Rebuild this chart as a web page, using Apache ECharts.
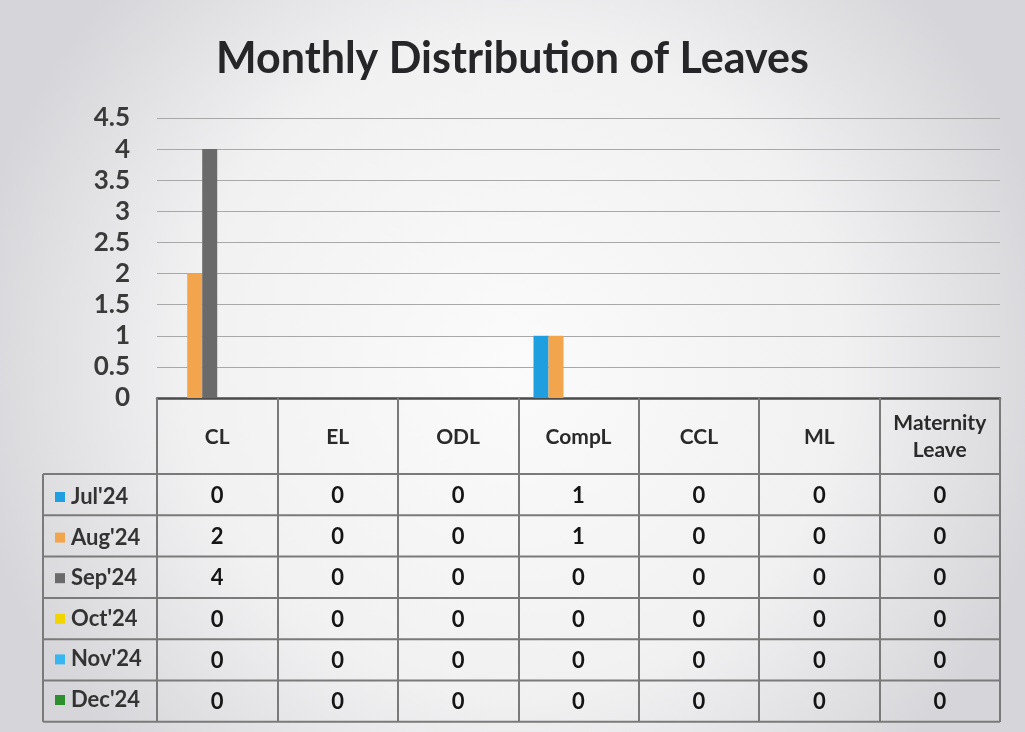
<!DOCTYPE html>
<html>
<head>
<meta charset="utf-8">
<script src="https://cdn.jsdelivr.net/npm/echarts@6/dist/echarts.min.js"></script>
<style>
  html, body { margin: 0; padding: 0; }
  #chart { width: 1025px; height: 732px; }
</style>
</head>
<body>
<div id="chart"></div>
<script>
const categories = ['CL', 'EL', 'ODL', 'CompL', 'CCL', 'ML', 'Maternity\nLeave']
const months = ["Jul'24", "Aug'24", "Sep'24", "Oct'24", "Nov'24", "Dec'24"]
const jul = [0, 0, 0, 1, 0, 0, 0]
const aug = [2, 0, 0, 1, 0, 0, 0]
const sep = [4, 0, 0, 0, 0, 0, 0]
const oct = [0, 0, 0, 0, 0, 0, 0]
const nov = [0, 0, 0, 0, 0, 0, 0]
const dec = [0, 0, 0, 0, 0, 0, 0]
const monthValues = [jul, aug, sep, oct, nov, dec]
const colors = ['#1f9fe0', '#f2a54c', '#6a6a6a', '#f2d400', '#38b6f0', '#2e8f2e']

const font = 'Lato, "Open Sans", sans-serif'
const el = document.getElementById('chart')
const chart = echarts.init(el)

// table layout (rows under the axis)
const headerBottom = 474
const rowH = 41.3
const rowLeft = 43

const option = {
  animation: false,
  backgroundColor: {
    type: 'radial', x: 0.5, y: 0.5, r: 0.75,
    colorStops: [
      { offset: 0, color: '#fbfbfb' },
      { offset: 0.6, color: '#f1f1f2' },
      { offset: 1, color: '#d6d6da' },
    ],
  },
  title: {
    text: 'Monthly Distribution of Leaves',
    left: 'center',
    top: 33,
    textStyle: { fontFamily: font, fontSize: 43, fontWeight: 'bold', color: '#262628' },
  },
  legend: {
    orient: 'vertical',
    left: 50,
    top: 480,
    itemWidth: 10,
    itemHeight: 10,
    itemGap: 16.6,
    icon: 'rect',
    selectedMode: false,
    data: months,
    textStyle: { fontFamily: font, fontSize: 22, fontWeight: 'bold', color: '#333', lineHeight: 24, padding: [0, 0, 0, 1] },
  },
  grid: { left: 157, right: 25, top: 118, bottom: 334 },
  xAxis: {
    type: 'category',
    data: categories,
    axisLine: { lineStyle: { color: '#4a4a4a', width: 2.5 } },
    axisTick: { show: true, length: 324, lineStyle: { color: '#7a7a7a', width: 2 } },
    axisLabel: {
      fontFamily: font, fontSize: 21, fontWeight: 'bold', color: '#2a2a2a',
      lineHeight: 27, margin: 39, verticalAlign: 'middle', interval: 0,
    },
  },
  yAxis: {
    type: 'value',
    min: 0,
    max: 4.5,
    interval: 0.5,
    axisLine: { show: false },
    axisTick: { show: false },
    axisLabel: { fontFamily: font, fontSize: 26, fontWeight: 'bold', color: '#3a3a3a', margin: 27 },
    splitLine: { lineStyle: { color: '#a8a8a8', width: 1.2 } },
  },
  series: months.map((m, i) => ({
    name: m,
    type: 'bar',
    data: monthValues[i],
    barWidth: 15,
    barGap: '0%',
    itemStyle: { color: colors[i] },
  })),
}

chart.setOption(option)

// data table drawn under the category axis
function tableGraphics() {
  const g = []
  const c0 = chart.convertToPixel({ xAxisIndex: 0 }, categories[0])
  const c1 = chart.convertToPixel({ xAxisIndex: 0 }, categories[1])
  const right = chart.convertToPixel({ xAxisIndex: 0 }, categories[categories.length - 1]) + (c1 - c0) / 2
  const lineStyle = { stroke: '#7a7a7a', lineWidth: 2 }
  for (let r = 0; r <= months.length; r++) {
    const y = headerBottom + r * rowH
    g.push({ type: 'line', shape: { x1: rowLeft, y1: y, x2: right, y2: y }, style: lineStyle })
  }
  g.push({ type: 'line', shape: { x1: rowLeft, y1: headerBottom, x2: rowLeft, y2: headerBottom + months.length * rowH }, style: lineStyle })
  monthValues.forEach((vals, r) => {
    vals.forEach((v, c) => {
      const x = chart.convertToPixel({ xAxisIndex: 0 }, categories[c])
      g.push({
        type: 'text',
        x: x,
        y: headerBottom + r * rowH + rowH / 2 + 1,
        style: {
          text: String(v), fontFamily: font, fontSize: 22, fontWeight: 'bold',
          fill: '#151515', align: 'center', verticalAlign: 'middle',
        },
      })
    })
  })
  return g
}

chart.setOption({ graphic: tableGraphics() })
</script>
</body>
</html>
